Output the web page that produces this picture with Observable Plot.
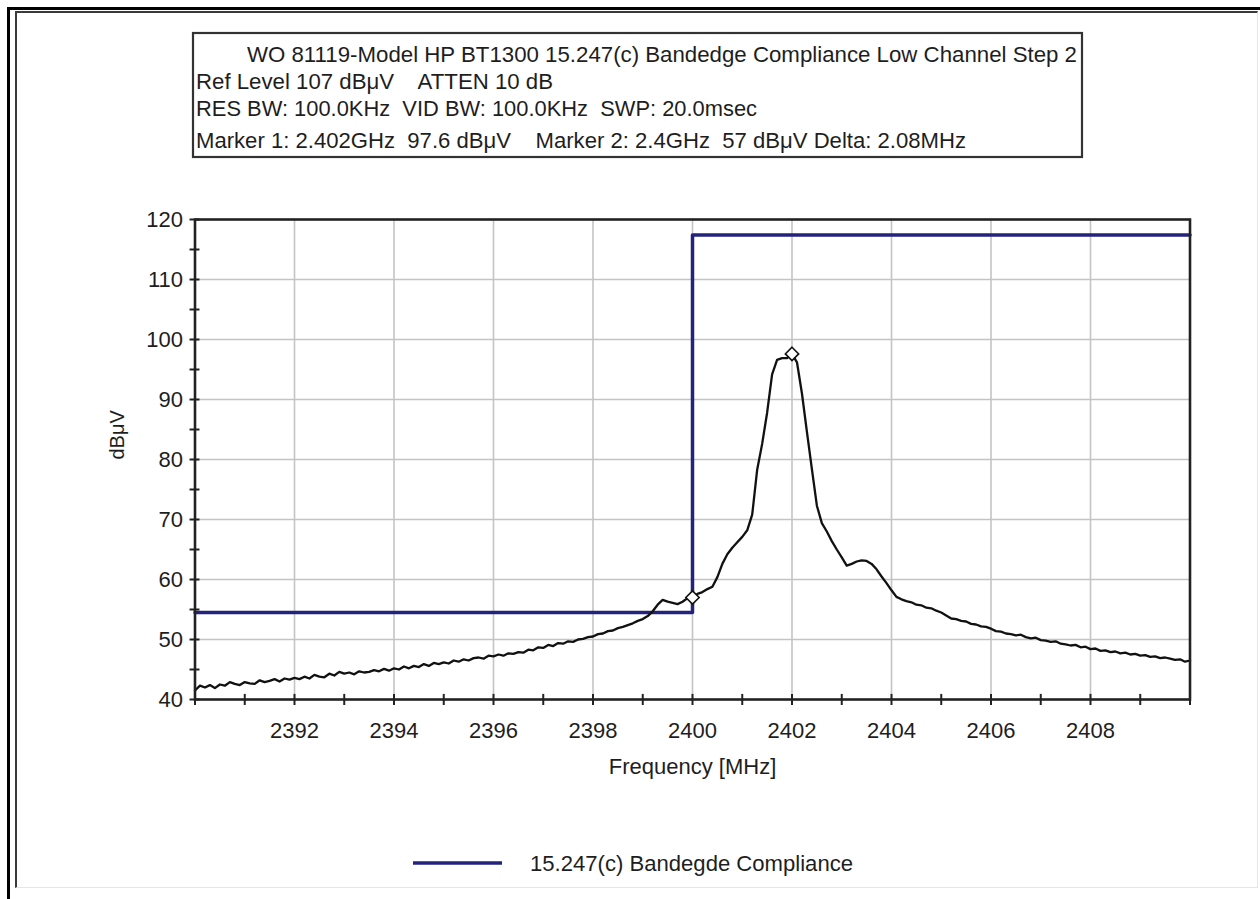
<!DOCTYPE html>
<html>
<head>
<meta charset="utf-8">
<script src="https://cdn.jsdelivr.net/npm/d3@7"></script>
<script src="https://cdn.jsdelivr.net/npm/@observablehq/plot@0.6"></script>
<style>
  body { margin: 0; background: #fff; }
  #page { position: relative; width: 1260px; height: 899px; overflow: hidden; background: #fff;
          font-family: "Liberation Sans", Arial, sans-serif; color: #1e1e1e; }
  #chart { position: absolute; left: 0; top: 0; }
  #outer { position: absolute; left: 7px; top: 7px; width: 1300px; height: 950px;
           border-left: 3px solid #000; border-top: 3px solid #000; }
  #inner { position: absolute; left: 15px; top: 11px; width: 1240px; height: 874px;
           border-left: 2px solid #3a3a3a; border-top: 2px solid #3a3a3a;
           border-right: 1px solid #e6e6e6; border-bottom: 1px solid #e6e6e6; }
  .overlay { position: absolute; left: 0; top: 0; }
  .overlay text { font-family: "Liberation Sans", Arial, sans-serif; font-size: 22px; fill: #1e1e1e; white-space: pre; }
</style>
</head>
<body>
<div id="page">
  <div id="chart"></div>
  <div id="outer"></div>
  <div id="inner"></div>
  <svg id="header" class="overlay" width="1260" height="170"></svg>
  <svg id="legend" class="overlay" width="1260" height="899" style="pointer-events:none"></svg>
</div>
<script>
// Sweep: frequency (MHz) and measured level (dBµV)
const freqMHz = [
  2390.0,2390.1,2390.2,2390.3,2390.4,2390.5,2390.6,2390.7,2390.8,2390.9,
  2391.0,2391.1,2391.2,2391.3,2391.4,2391.5,2391.6,2391.7,2391.8,2391.9,
  2392.0,2392.1,2392.2,2392.3,2392.4,2392.5,2392.6,2392.7,2392.8,2392.9,
  2393.0,2393.1,2393.2,2393.3,2393.4,2393.5,2393.6,2393.7,2393.8,2393.9,
  2394.0,2394.1,2394.2,2394.3,2394.4,2394.5,2394.6,2394.7,2394.8,2394.9,
  2395.0,2395.1,2395.2,2395.3,2395.4,2395.5,2395.6,2395.7,2395.8,2395.9,
  2396.0,2396.1,2396.2,2396.3,2396.4,2396.5,2396.6,2396.7,2396.8,2396.9,
  2397.0,2397.1,2397.2,2397.3,2397.4,2397.5,2397.6,2397.7,2397.8,2397.9,
  2398.0,2398.1,2398.2,2398.3,2398.4,2398.5,2398.6,2398.7,2398.8,2398.9,
  2399.0,2399.1,2399.2,2399.3,2399.4,2399.5,2399.6,2399.7,2399.8,2399.9,
  2400.0,2400.1,2400.2,2400.3,2400.4,2400.5,2400.6,2400.7,2400.8,2400.9,
  2401.0,2401.1,2401.2,2401.3,2401.4,2401.5,2401.6,2401.7,2401.8,2401.9,
  2402.0,2402.1,2402.2,2402.3,2402.4,2402.5,2402.6,2402.7,2402.8,2402.9,
  2403.0,2403.1,2403.2,2403.3,2403.4,2403.5,2403.6,2403.7,2403.8,2403.9,
  2404.0,2404.1,2404.2,2404.3,2404.4,2404.5,2404.6,2404.7,2404.8,2404.9,
  2405.0,2405.1,2405.2,2405.3,2405.4,2405.5,2405.6,2405.7,2405.8,2405.9,
  2406.0,2406.1,2406.2,2406.3,2406.4,2406.5,2406.6,2406.7,2406.8,2406.9,
  2407.0,2407.1,2407.2,2407.3,2407.4,2407.5,2407.6,2407.7,2407.8,2407.9,
  2408.0,2408.1,2408.2,2408.3,2408.4,2408.5,2408.6,2408.7,2408.8,2408.9,
  2409.0,2409.1,2409.2,2409.3,2409.4,2409.5,2409.6,2409.7,2409.8,2409.9,
  2410.0
];
const levelDbuV = [
  41.5,42.3,42.0,42.4,41.9,42.5,42.3,42.9,42.6,42.4,
  42.9,42.7,42.6,43.2,42.9,43.1,43.4,43.0,43.5,43.3,
  43.6,43.4,43.8,43.5,44.1,43.8,43.7,44.3,44.0,44.6,
  44.3,44.5,44.2,44.7,44.5,44.6,44.9,44.7,45.1,44.8,
  45.2,45.0,45.5,45.2,45.6,45.4,45.9,45.6,46.1,45.9,
  46.2,46.0,46.5,46.3,46.7,46.5,46.9,47.0,46.8,47.3,
  47.2,47.5,47.3,47.7,47.6,47.9,47.8,48.3,48.2,48.7,
  48.6,49.1,48.9,49.4,49.3,49.7,49.6,50.0,50.1,50.4,
  50.5,50.9,51.0,51.4,51.5,51.9,52.1,52.4,52.7,53.1,
  53.4,53.9,54.7,55.8,56.6,56.3,56.1,55.9,56.3,56.9,
  57.0,57.6,57.9,58.4,58.8,60.4,62.6,64.2,65.3,66.2,
  67.1,68.2,70.8,78.3,82.6,87.8,94.2,96.6,96.9,96.9,
  97.6,96.2,91.0,84.6,78.4,72.3,69.4,68.0,66.4,65.0,
  63.7,62.3,62.6,63.0,63.2,63.1,62.6,61.7,60.5,59.4,
  58.2,57.1,56.7,56.4,56.2,55.8,55.7,55.3,55.2,54.8,
  54.5,54.0,53.5,53.4,53.1,53.0,52.6,52.5,52.2,52.1,
  51.8,51.4,51.3,51.0,50.9,50.7,50.8,50.4,50.2,50.3,
  49.9,49.8,49.6,49.7,49.3,49.2,49.0,49.1,48.7,48.8,
  48.4,48.5,48.1,48.2,47.9,48.0,47.7,47.8,47.5,47.6,
  47.3,47.4,47.1,47.2,46.9,47.0,46.8,46.6,46.7,46.3,
  46.5
];

// 15.247(c) band-edge limit line
const limitFreqMHz = [2390, 2400, 2400, 2410];
const limitDbuV = [54.5, 54.5, 117.4, 117.4];

// Markers 1 and 2
const markerFreqMHz = [2402, 2400];
const markerDbuV = [97.6, 57];

// Axis ticks
const xLabelTicks = [2392, 2394, 2396, 2398, 2400, 2402, 2404, 2406, 2408];
const xTickMarks = [2390, 2391, 2392, 2393, 2394, 2395, 2396, 2397, 2398, 2399, 2400,
                    2401, 2402, 2403, 2404, 2405, 2406, 2407, 2408, 2409, 2410];
const yLabelTicks = [40, 50, 60, 70, 80, 90, 100, 110, 120];
const yTickMarks = [40, 45, 50, 55, 60, 65, 70, 75, 80, 85, 90, 95, 100, 105, 110, 115, 120];
const yGridTicks = [50, 60, 70, 80, 90, 100, 110];

// Header and legend text
const headerLines = [
  "WO 81119-Model HP BT1300 15.247(c) Bandedge Compliance Low Channel Step 2",
  "Ref Level 107 dBμV    ATTEN 10 dB",
  "RES BW: 100.0KHz  VID BW: 100.0KHz  SWP: 20.0msec",
  "Marker 1: 2.402GHz  97.6 dBμV    Marker 2: 2.4GHz  57 dBμV Delta: 2.08MHz"
];
const legendLabel = "15.247(c) Bandegde Compliance";
const xTitle = "Frequency [MHz]";
const yTitle = "dBμV";

const limitColor = "#23237e";

const trace = freqMHz.map((f, i) => ({f, v: levelDbuV[i]}));
const limit = limitFreqMHz.map((f, i) => ({f, v: limitDbuV[i]}));
const markers = markerFreqMHz.map((f, i) => ({f, v: markerDbuV[i]}));

const chart = Plot.plot({
  width: 1260,
  height: 899,
  marginLeft: 194.5,
  marginRight: 70.5,
  marginTop: 219,
  marginBottom: 200,
  style: {fontFamily: "'Liberation Sans', Arial, sans-serif", fontSize: "22px", color: "#1e1e1e", background: "transparent", overflow: "visible"},
  x: {domain: [2390, 2410], ticks: xLabelTicks, tickSize: 0, tickPadding: 23, tickFormat: d3.format("d"), label: null},
  y: {domain: [40, 120], ticks: yLabelTicks, tickSize: 0, tickPadding: 12, tickFormat: d3.format("d"), label: null},
  marks: [
    Plot.ruleX(xLabelTicks, {x: d => d, stroke: "#c4c4c4", strokeWidth: 1.6}),
    Plot.ruleY(yGridTicks, {y: d => d, stroke: "#c4c4c4", strokeWidth: 1.6}),
    Plot.line(limit, {x: "f", y: "v", stroke: limitColor, strokeWidth: 3.5}),
    Plot.line(trace, {x: "f", y: "v", stroke: "#111", strokeWidth: 2.3}),
    Plot.dot(markers, {x: "f", y: "v", symbol: "diamond2", r: 6, stroke: "#111", fill: "white", strokeWidth: 1.6}),
    Plot.frame({stroke: "#222", strokeWidth: 2.6}),
    Plot.ruleX(xTickMarks, {x: d => d, y1: 39, y2: 40.85, stroke: "#222", strokeWidth: 2}),
    Plot.ruleY(yTickMarks, {y: d => d, x1: 2389.9, x2: 2390.1, stroke: "#222", strokeWidth: 2}),
    Plot.text([xTitle], {text: d => d, frameAnchor: "bottom", dy: 74, fontSize: 22, fill: "#1e1e1e"}),
    Plot.text([yTitle], {text: d => d, frameAnchor: "left", dx: -77, rotate: -90, fontSize: 20, fill: "#1e1e1e"})
  ]
});
document.getElementById("chart").appendChild(chart);

// Header box with instrument settings
const header = d3.select("#header");
header.append("rect")
  .attr("x", 193).attr("y", 33).attr("width", 889).attr("height", 124)
  .attr("fill", "white").attr("stroke", "#333").attr("stroke-width", 2.2);
const headerLayout = [
  {x: 247, y: 62, w: 830},
  {x: 196, y: 89, w: 357},
  {x: 196, y: 116, w: 561},
  {x: 196, y: 148, w: 770}
];
header.selectAll("text.h").data(headerLines).join("text")
  .attr("class", "h")
  .attr("x", (d, i) => headerLayout[i].x)
  .attr("y", (d, i) => headerLayout[i].y)
  .attr("textLength", (d, i) => headerLayout[i].w)
  .attr("lengthAdjust", "spacingAndGlyphs")
  .attr("xml:space", "preserve")
  .text(d => d);

// Legend below the chart
const legend = d3.select("#legend");
legend.append("line")
  .attr("x1", 413).attr("x2", 502).attr("y1", 863).attr("y2", 863)
  .attr("stroke", limitColor).attr("stroke-width", 3.5);
legend.append("text")
  .attr("x", 530).attr("y", 863).attr("dy", "0.35em")
  .attr("textLength", 323).attr("lengthAdjust", "spacingAndGlyphs")
  .text(legendLabel);
</script>
</body>
</html>
